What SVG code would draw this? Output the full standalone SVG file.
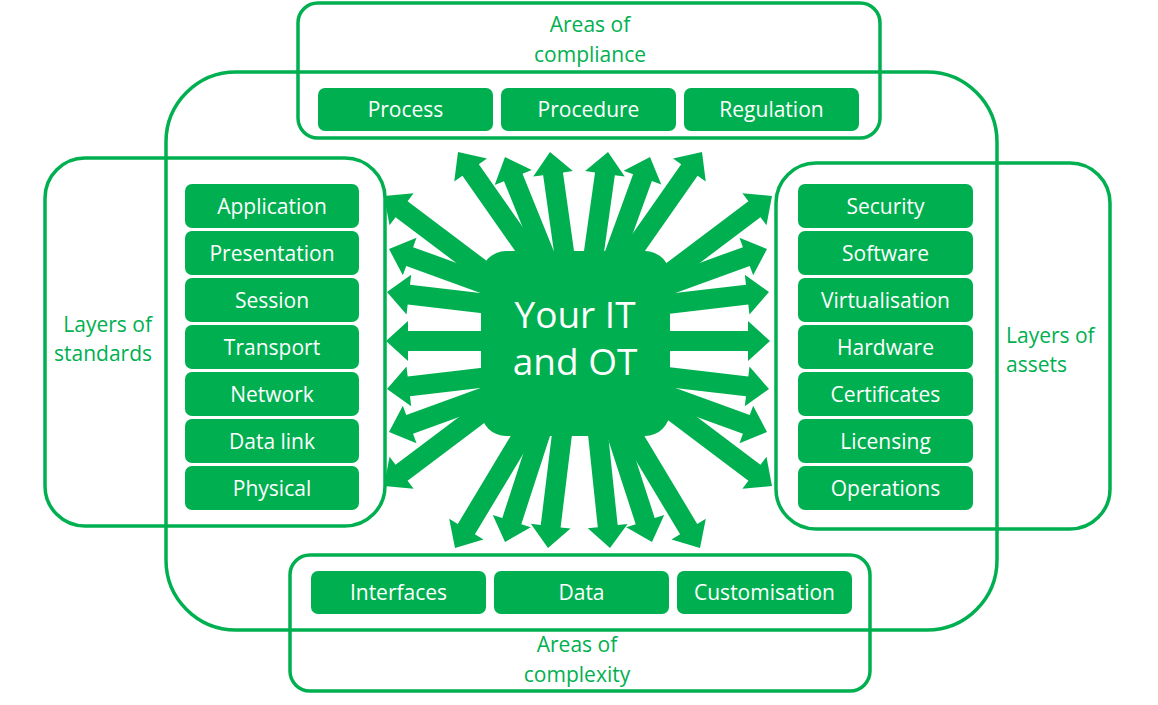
<svg xmlns="http://www.w3.org/2000/svg" xmlns:xlink="http://www.w3.org/1999/xlink" width="1158" height="705" viewBox="0 0 1158 705">
<style>
.frame{fill:none;stroke:#00B050;stroke-width:3.5}
.item{fill:#00B050}
.it{font-family:"Open Sans","Noto Sans","Liberation Sans",sans-serif;font-size:21px;fill:#fff;text-anchor:middle}
.lbl{font-family:"Open Sans","Noto Sans","Liberation Sans",sans-serif;font-size:21px;fill:#00B050}
.mid{text-anchor:middle}
.ctr{font-family:"Open Sans","Noto Sans","Liberation Sans",sans-serif;font-size:37px;fill:#fff;text-anchor:middle}
.arr{fill:#00B050}
</style>
<defs>
<polygon id="a150" points="0,0 -22,-20 -22,-10 -150,-10 -150,10 -22,10 -22,20"/>
<polygon id="a160" points="0,0 -22,-20 -22,-10 -160,-10 -160,10 -22,10 -22,20"/>
<polygon id="a180" points="0,0 -22,-20 -22,-10 -180,-10 -180,10 -22,10 -22,20"/>
</defs>
<rect width="1158" height="705" fill="#fff"/>
<g id="outer-frame"><rect class="frame" x="166" y="72" width="831" height="558" rx="70"/></g>

<g id="connectors" class="arr">
<use href="#a150" transform="translate(384,196) rotate(-143)"/>
<use href="#a150" transform="translate(389,249) rotate(-160)"/>
<use href="#a150" transform="translate(387,292) rotate(-173.3)"/>
<use href="#a150" transform="translate(386,341) rotate(180)"/>
<use href="#a150" transform="translate(387,389) rotate(173.3)"/>
<use href="#a150" transform="translate(389,432) rotate(160)"/>
<use href="#a150" transform="translate(384,486) rotate(143)"/>
<use href="#a150" transform="translate(772,196) rotate(-37)"/>
<use href="#a150" transform="translate(767,249) rotate(-20)"/>
<use href="#a150" transform="translate(769,292) rotate(-6.7)"/>
<use href="#a150" transform="translate(770,341) rotate(0)"/>
<use href="#a150" transform="translate(769,389) rotate(6.7)"/>
<use href="#a150" transform="translate(767,432) rotate(20)"/>
<use href="#a150" transform="translate(772,486) rotate(37)"/>
<use href="#a180" transform="translate(458,152) rotate(-125)"/>
<use href="#a160" transform="translate(505,157) rotate(-112)"/>
<use href="#a150" transform="translate(550,152) rotate(-98)"/>
<use href="#a150" transform="translate(608,152) rotate(-82)"/>
<use href="#a160" transform="translate(650,157) rotate(-70)"/>
<use href="#a180" transform="translate(702,152) rotate(-55)"/>
<use href="#a180" transform="translate(455,548) rotate(121)"/>
<use href="#a160" transform="translate(505,542) rotate(108)"/>
<use href="#a160" transform="translate(548,548) rotate(97)"/>
<use href="#a160" transform="translate(610,548) rotate(84)"/>
<use href="#a160" transform="translate(652,542) rotate(72)"/>
<use href="#a180" transform="translate(700,548) rotate(59)"/>
</g>

<g id="center">
<rect class="item" x="481" y="251" width="189" height="185" rx="25"/>
<text class="ctr" x="575" y="328">Your IT</text>
<text class="ctr" x="575" y="375">and OT</text>
</g>

<g id="areas-of-compliance">
<rect class="frame" x="298" y="3" width="582" height="135" rx="20"/>
<text class="lbl mid" x="590" y="32">Areas of</text>
<text class="lbl mid" x="590" y="62">compliance</text>
<rect class="item" x="318" y="88" width="175" height="43" rx="7"/>
<text class="it" x="405.5" y="117">Process</text>
<rect class="item" x="501" y="88" width="175" height="43" rx="7"/>
<text class="it" x="588.5" y="117">Procedure</text>
<rect class="item" x="684" y="88" width="175" height="43" rx="7"/>
<text class="it" x="771.5" y="117">Regulation</text>
</g>

<g id="layers-of-standards">
<rect class="frame" x="45" y="158" width="340" height="368" rx="40"/>
<text class="lbl" x="152" y="332" text-anchor="end">Layers of</text>
<text class="lbl" x="152" y="361" text-anchor="end">standards</text>
<rect class="item" x="185" y="184" width="174" height="44" rx="7"/>
<text class="it" x="272" y="214">Application</text>
<rect class="item" x="185" y="231" width="174" height="44" rx="7"/>
<text class="it" x="272" y="261">Presentation</text>
<rect class="item" x="185" y="278" width="174" height="44" rx="7"/>
<text class="it" x="272" y="308">Session</text>
<rect class="item" x="185" y="325" width="174" height="44" rx="7"/>
<text class="it" x="272" y="355">Transport</text>
<rect class="item" x="185" y="372" width="174" height="44" rx="7"/>
<text class="it" x="272" y="402">Network</text>
<rect class="item" x="185" y="419" width="174" height="44" rx="7"/>
<text class="it" x="272" y="449">Data link</text>
<rect class="item" x="185" y="466" width="174" height="44" rx="7"/>
<text class="it" x="272" y="496">Physical</text>
</g>

<g id="layers-of-assets">
<rect class="frame" x="776" y="163" width="334" height="366" rx="40"/>
<text class="lbl" x="1006" y="343">Layers of</text>
<text class="lbl" x="1006" y="372">assets</text>
<rect class="item" x="798" y="184" width="175" height="44" rx="7"/>
<text class="it" x="885.5" y="214">Security</text>
<rect class="item" x="798" y="231" width="175" height="44" rx="7"/>
<text class="it" x="885.5" y="261">Software</text>
<rect class="item" x="798" y="278" width="175" height="44" rx="7"/>
<text class="it" x="885.5" y="308">Virtualisation</text>
<rect class="item" x="798" y="325" width="175" height="44" rx="7"/>
<text class="it" x="885.5" y="355">Hardware</text>
<rect class="item" x="798" y="372" width="175" height="44" rx="7"/>
<text class="it" x="885.5" y="402">Certificates</text>
<rect class="item" x="798" y="419" width="175" height="44" rx="7"/>
<text class="it" x="885.5" y="449">Licensing</text>
<rect class="item" x="798" y="466" width="175" height="44" rx="7"/>
<text class="it" x="885.5" y="496">Operations</text>
</g>

<g id="areas-of-complexity">
<rect class="frame" x="290" y="555" width="580" height="136" rx="20"/>
<rect class="item" x="311" y="571" width="175" height="43" rx="7"/>
<text class="it" x="398.5" y="600">Interfaces</text>
<rect class="item" x="494" y="571" width="175" height="43" rx="7"/>
<text class="it" x="581.5" y="600">Data</text>
<rect class="item" x="677" y="571" width="175" height="43" rx="7"/>
<text class="it" x="764.5" y="600">Customisation</text>
<text class="lbl mid" x="577" y="652">Areas of</text>
<text class="lbl mid" x="577" y="682">complexity</text>
</g>
</svg>
